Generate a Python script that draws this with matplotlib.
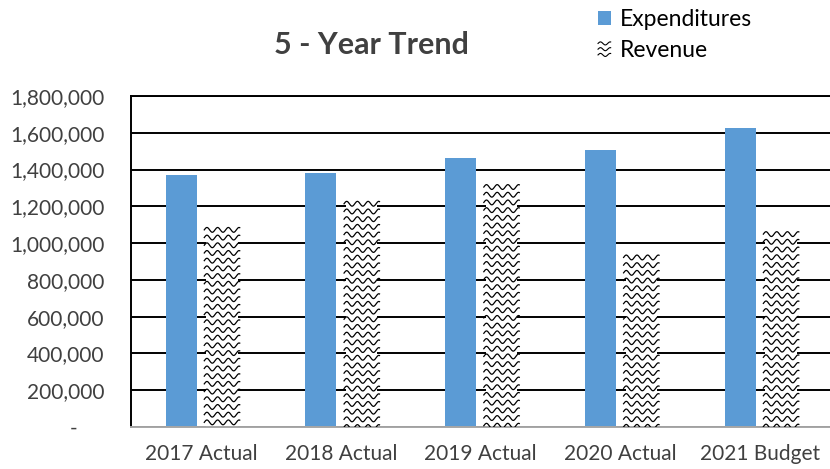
import numpy as np
import matplotlib
matplotlib.use("Agg")
import matplotlib.pyplot as plt
from matplotlib.lines import Line2D
from matplotlib.patches import Patch
from matplotlib.legend_handler import HandlerBase
from matplotlib.transforms import IdentityTransform
from matplotlib.ticker import FuncFormatter

categories = ["2017 Actual", "2018 Actual", "2019 Actual", "2020 Actual", "2021 Budget"]
expenditures = [1370000, 1379000, 1461000, 1506000, 1624000]
revenue = [1085000, 1227000, 1318000, 935000, 1062000]
y_ticks = [0, 200000, 400000, 600000, 800000, 1000000, 1200000, 1400000, 1600000, 1800000]

plt.rcParams["font.family"] = ["Lato", "DejaVu Sans"]

BLUE = "#5B9BD5"
TEXT = "#404040"


def wave_lines(x0, x1, y_top, y_bottom, period, amp, gap, lw, transform, clip=None):
    # rows of sine waves used as a fill pattern
    xs = np.linspace(x0, x1, 200)
    lines = []
    y = y_top - amp
    while y > y_bottom - amp:
        ys = y + amp * np.sin(2 * np.pi * (xs - x0) / period)
        ln = Line2D(xs, ys, color="black", lw=lw, transform=transform, zorder=3)
        if clip is not None:
            ln.set_clip_path(clip)
        lines.append(ln)
        y -= gap
    return lines


class WaveHandler(HandlerBase):
    def create_artists(self, legend, orig_handle, xdescent, ydescent,
                       width, height, fontsize, trans):
        x0, y0 = -xdescent, -ydescent
        return wave_lines(x0, x0 + width, y0 + height, y0 + 1, period=width / 1.3,
                          amp=height / 9, gap=height / 2.4, lw=0.8, transform=trans)


fig = plt.figure(figsize=(8.3, 4.69), dpi=100)
ax = fig.add_axes([0.158, 0.0896, 0.842, 0.7057])

x = np.arange(len(categories))
exp_bars = ax.bar(x - 0.143, expenditures, 0.222, color=BLUE, zorder=2)
rev_bars = ax.bar(x + 0.150, revenue, 0.225, color="white", zorder=2)

ax.set_xlim(-0.5, len(categories) - 0.5)
ax.set_ylim(0, 1800000)
ax.set_yticks(y_ticks)
ax.yaxis.set_major_formatter(FuncFormatter(lambda v, p: f"{v:,.0f}" if v else "-     "))
ax.set_xticks(x)
ax.set_xticklabels(categories)

ax.set_axisbelow(True)
ax.yaxis.grid(True, color="black", lw=1.4)
ax.tick_params(axis="y", length=0, pad=19, labelsize=15, labelcolor=TEXT)
ax.tick_params(axis="x", length=0, pad=12, labelsize=15, labelcolor=TEXT)
ax.spines["right"].set_visible(False)
ax.spines["top"].set_color("black")
ax.spines["top"].set_linewidth(1.4)
ax.spines["left"].set_color("black")
ax.spines["left"].set_linewidth(1.4)
ax.spines["bottom"].set_color("#a6a6a6")
ax.spines["bottom"].set_linewidth(1.4)

fig.text(0.448, 0.904, "5 - Year Trend", ha="center", va="center",
         fontsize=22, fontweight="bold", color=TEXT)

rev_proxy = Patch(facecolor="white", edgecolor="none")
exp_proxy = Patch(facecolor=BLUE, edgecolor="none")
fig.legend([exp_proxy, rev_proxy], ["Expenditures", "Revenue"],
           handler_map={rev_proxy: WaveHandler()},
           loc="upper left", bbox_to_anchor=(0.715, 0.99), frameon=False,
           fontsize=16.5, handlelength=0.55, handleheight=0.55, handletextpad=0.4,
           labelspacing=0.42, borderpad=0.2, borderaxespad=0, labelcolor="black")

# fill the revenue bars with the wave pattern in pixel space
fig.canvas.draw()
for bar in rev_bars:
    bb = bar.get_window_extent()
    for ln in wave_lines(bb.x0 - 2, bb.x1 + 2, bb.y1, bb.y0, period=10.7, amp=2.4,
                         gap=7.7, lw=0.9, transform=IdentityTransform(), clip=bar):
        ax.add_artist(ln)

fig.savefig("out.png", dpi=100)
